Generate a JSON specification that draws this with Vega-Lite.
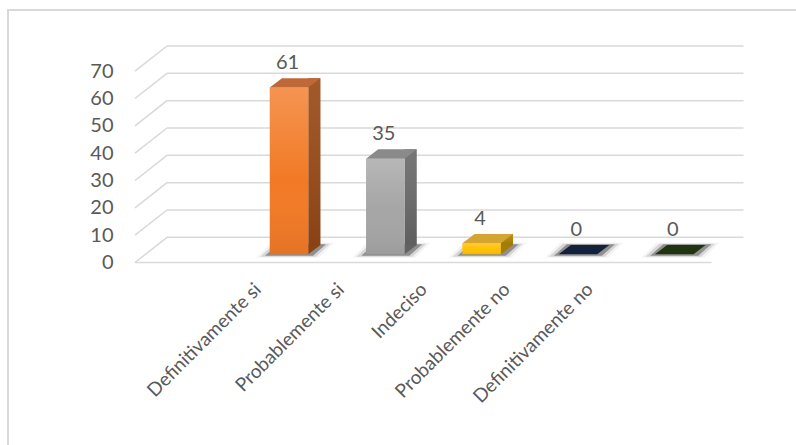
{
  "$schema": "https://vega.github.io/schema/vega-lite/v6.json",
  "width": 789,
  "height": 436,
  "autosize": {"type": "none"},
  "padding": {"left": 8, "top": 10, "right": 0, "bottom": 0},
  "background": "white",
  "config": {
    "view": {"stroke": "#d9d9d9", "strokeWidth": 2},
    "font": "Lato"
  },
  "datasets": {
    "grid": [{"v": 0}, {"v": 10}, {"v": 20}, {"v": 30}, {"v": 40}, {"v": 50}, {"v": 60}, {"v": 70}],
    "resp": [
      {"cat": "Definitivamente si", "value": 61},
      {"cat": "Probablemente si", "value": 35},
      {"cat": "Indeciso", "value": 4},
      {"cat": "Probablemente no", "value": 0},
      {"cat": "Definitivamente no", "value": 0}
    ]
  },
  "layer": [
    {
      "layer": [
        {
          "data": {"name": "grid"},
          "mark": {"type": "rule", "color": "#d9d9d9", "strokeWidth": 1.5, "yOffset": -25.2},
          "encoding": {
            "y": {
              "field": "v", "type": "quantitative",
              "scale": {"domain": [0, 70], "range": [252.5, 61.2], "nice": false, "zero": false},
              "axis": {"values": [0, 10, 20, 30, 40, 50, 60, 70], "offset": -105, "domain": false, "ticks": false, "grid": false, "labelPadding": 0, "labelFontSize": 20, "labelColor": "#595959", "labelFont": "Lato", "title": null}
            },
            "x": {"value": 159},
            "x2": {"value": 735.5}
          }
        },
        {
          "data": {"name": "grid"},
          "mark": {"type": "rule", "color": "#d9d9d9", "strokeWidth": 1.5, "y2Offset": -25.2},
          "encoding": {
            "y": {"field": "v", "type": "quantitative"},
            "y2": {"field": "v"},
            "x": {"value": 127},
            "x2": {"value": 159}
          }
        },
        {
          "data": {"name": "grid"},
          "transform": [{"filter": "datum.v == 0"}],
          "mark": {"type": "rule", "color": "#d9d9d9", "strokeWidth": 1.5},
          "encoding": {
            "y": {"field": "v", "type": "quantitative"},
            "x": {"value": 127},
            "x2": {"value": 703.5}
          }
        },
        {
          "data": {"name": "resp"},
          "mark": {"type": "point", "shape": "M-3.3,0.35 L3.0,0.35 L4.5,-1.15 L-1.8,-1.15 Z", "size": 400, "filled": true, "color": "#262626", "opacity": 0.05, "strokeWidth": 0, "yOffset": -8.2},
          "encoding": {
            "x": {"field": "cat", "type": "nominal", "sort": null, "scale": {"range": [232.85, 714.35], "paddingInner": 0, "paddingOuter": 0}, "axis": null},
            "y": {"datum": 0, "type": "quantitative"}
          }
        },
        {
          "data": {"name": "resp"},
          "mark": {"type": "point", "shape": "M-2.9,0.25 L2.7,0.25 L4.1,-1.05 L-1.5,-1.05 Z", "size": 400, "filled": true, "color": "#262626", "opacity": 0.14, "strokeWidth": 0, "yOffset": -8.2},
          "encoding": {
            "x": {"field": "cat", "type": "nominal", "sort": null, "axis": null},
            "y": {"datum": 0, "type": "quantitative"}
          }
        },
        {
          "data": {"name": "resp"},
          "mark": {"type": "point", "shape": "M-2.4,0.15 L2.4,0.15 L3.7,-1.0 L-1.1,-1.0 Z", "size": 400, "filled": true, "color": "#262626", "opacity": 0.4, "strokeWidth": 0, "yOffset": -8.2},
          "encoding": {
            "x": {"field": "cat", "type": "nominal", "sort": null, "axis": null},
            "y": {"datum": 0, "type": "quantitative"}
          }
        },
        {
          "data": {"name": "resp"},
          "transform": [{"filter": "datum.value > 0"}],
          "mark": {"type": "bar", "width": 12.2, "xOffset": 25.35, "yOffset": -17.6, "y2Offset": -17.6},
          "encoding": {
            "x": {"field": "cat", "type": "nominal", "sort": null, "axis": null},
            "y": {"field": "value", "type": "quantitative"},
            "y2": {"datum": 0},
            "color": {"field": "cat", "type": "nominal", "legend": null,
              "scale": {"domain": ["Definitivamente si", "Probablemente si", "Indeciso", "Probablemente no", "Definitivamente no"], "range": ["#9a4b18", "#6b6b6b", "#b38700", "#16223d", "#233614"]}}
          }
        },
        {
          "data": {"name": "resp"},
          "transform": [{"filter": "datum.value > 0"}],
          "mark": {"type": "bar", "width": 12.2, "xOffset": 25.35, "yOffset": -17.6, "y2Offset": -17.6,
            "color": {"gradient": "linear", "x1": 0, "y1": 0, "x2": 0, "y2": 1, "stops": [{"offset": 0, "color": "rgba(255,255,255,0.08)"}, {"offset": 1, "color": "rgba(0,0,0,0.12)"}]}},
          "encoding": {
            "x": {"field": "cat", "type": "nominal", "sort": null, "axis": null},
            "y": {"field": "value", "type": "quantitative"},
            "y2": {"datum": 0}
          }
        },
        {
          "data": {"name": "resp"},
          "transform": [{"filter": "datum.value > 0"}],
          "mark": {"type": "point", "shape": "M1.925,-0.94 L1.925,0 L3.145,-0.94 Z", "size": 400, "filled": true, "opacity": 1, "strokeWidth": 0, "yOffset": -8.2},
          "encoding": {
            "x": {"field": "cat", "type": "nominal", "sort": null, "axis": null},
            "y": {"datum": 0, "type": "quantitative"},
            "color": {"field": "cat", "type": "nominal", "legend": null,
              "scale": {"domain": ["Definitivamente si", "Probablemente si", "Indeciso", "Probablemente no", "Definitivamente no"], "range": ["#8c4213", "#616161", "#a67d00", "#16223d", "#233614"]}}
          }
        },
        {
          "data": {"name": "resp"},
          "transform": [{"filter": "datum.value > 0"}],
          "mark": {"type": "bar", "width": 38.5, "yOffset": -8.2, "y2Offset": -8.2},
          "encoding": {
            "x": {"field": "cat", "type": "nominal", "sort": null, "axis": null},
            "y": {"field": "value", "type": "quantitative"},
            "y2": {"datum": 0},
            "color": {"field": "cat", "type": "nominal", "legend": null,
              "scale": {"domain": ["Definitivamente si", "Probablemente si", "Indeciso", "Probablemente no", "Definitivamente no"], "range": ["#f27a26", "#a5a5a5", "#ffc000", "#203864", "#385723"]}}
          }
        },
        {
          "data": {"name": "resp"},
          "transform": [{"filter": "datum.value > 0"}],
          "mark": {"type": "bar", "width": 38.5, "yOffset": -8.2, "y2Offset": -8.2,
            "color": {"gradient": "linear", "x1": 0, "y1": 0, "x2": 0, "y2": 1, "stops": [{"offset": 0, "color": "rgba(255,255,255,0.2)"}, {"offset": 0.55, "color": "rgba(255,255,255,0)"}, {"offset": 1, "color": "rgba(0,0,0,0.06)"}]}},
          "encoding": {
            "x": {"field": "cat", "type": "nominal", "sort": null, "axis": null},
            "y": {"field": "value", "type": "quantitative"},
            "y2": {"datum": 0}
          }
        },
        {
          "data": {"name": "resp"},
          "mark": {"type": "point", "shape": "M-1.925,0 L1.925,0 L3.145,-0.94 L-0.705,-0.94 Z", "size": 400, "filled": true, "opacity": 1, "strokeWidth": 0, "yOffset": -8.2},
          "encoding": {
            "x": {"field": "cat", "type": "nominal", "sort": null, "axis": null},
            "y": {"field": "value", "type": "quantitative"},
            "color": {"field": "cat", "type": "nominal", "legend": null,
              "scale": {"domain": ["Definitivamente si", "Probablemente si", "Indeciso", "Probablemente no", "Definitivamente no"], "range": ["#bf6838", "#8a8a8a", "#d4a532", "#14213d", "#22330f"]}}
          }
        },
        {
          "data": {"name": "resp"},
          "mark": {"type": "text", "fontSize": 20, "color": "#595959", "baseline": "middle", "align": "center", "dx": -1.5, "yOffset": -33},
          "encoding": {
            "x": {"field": "cat", "type": "nominal", "sort": null, "axis": null},
            "y": {"field": "value", "type": "quantitative"},
            "text": {"field": "value", "type": "quantitative"}
          }
        }
      ],
      "resolve": {"scale": {"color": "independent"}}
    },
    {
      "data": {"name": "resp"},
      "mark": {"type": "text", "angle": -45, "align": "right", "baseline": "middle", "fontSize": 19, "color": "#595959", "yOffset": 24},
      "encoding": {
        "x": {"field": "cat", "type": "nominal", "sort": null, "scale": {"range": [208.5, 623.5], "paddingInner": 0, "paddingOuter": 0}, "axis": null},
        "y": {"datum": 0, "type": "quantitative"},
        "text": {"field": "cat"}
      }
    }
  ],
  "resolve": {"scale": {"x": "independent"}}
}
